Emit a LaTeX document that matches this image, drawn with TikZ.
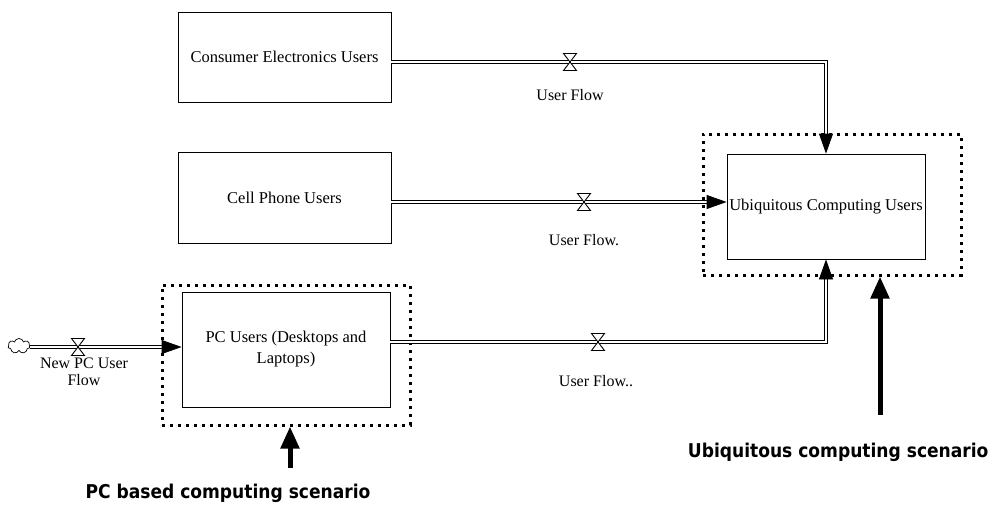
\documentclass[tikz,border=0pt]{standalone}
\usepackage{fontspec}
\setmainfont{Liberation Serif}
\newfontfamily\lblfont{DejaVu Sans Condensed}
\usetikzlibrary{arrows.meta,shapes.symbols}
\begin{document}
\begin{tikzpicture}[x=1pt,y=-1pt,
 stock/.style={draw, line width=0.8pt, inner sep=0pt, font=\fontsize{16.5}{21}\selectfont, align=center},
 dotbox/.style={draw, line width=3pt, dash pattern=on 3pt off 5pt, inner sep=0pt},
 flow/.style={draw, line width=0.8pt, double distance=2pt},
 flowarr/.style={flow, -{Triangle[length=20pt,width=14pt]}},
 lbl/.style={font=\fontsize{16}{17}\selectfont, align=center},
 scen/.style={font=\lblfont\bfseries\fontsize{19}{22}\selectfont},
 bigarrow/.style={line width=5pt, -{Triangle[length=22pt,width=18pt]}},
 valve/.pic={\filldraw[fill=white, line width=0.9pt] (-6.5,-8.5) -- (6.5,-8.5) -- (-6.5,8.5) -- (6.5,8.5) -- cycle;}
]
\useasboundingbox (0,0) rectangle (997,506);
\node[stock, minimum width=213pt, minimum height=90pt] (ce) at (284.5,57) {Consumer Electronics Users};
\node[stock, minimum width=213pt, minimum height=91pt] (cp) at (284.5,197.5) {Cell Phone Users};
\node[stock, minimum width=208pt, minimum height=115pt] (pc) at (286,349.5) {PC Users (Desktops and\\Laptops)};
\node[stock, minimum width=198pt, minimum height=105pt] (ub) at (826,206.5) {Ubiquitous Computing Users};
\node[dotbox, minimum width=258pt, minimum height=141pt] (ubd) at (832,204.5) {};
\node[dotbox, minimum width=248pt, minimum height=140pt] (pcd) at (286,355) {};
\coordinate (v1) at (570,62);
\coordinate (v2) at (584,202);
\coordinate (v3) at (598,342);
\coordinate (v0) at (78,347);
\node[cloud, draw, cloud puffs=7, minimum width=22pt, minimum height=15pt, inner sep=0pt, line width=0.7pt] (src) at (19,346) {};
\draw[flowarr] (ce.east |- v1) -| (ub.north);
\draw[flowarr] (cp.east |- v2) -- (ub.west |- v2);
\draw[flowarr] (pc.east |- v3) -| (ub.south);
\draw[flowarr] (src.east |- v0) -- (pc.west |- v0);
\pic at (v1) {valve};
\pic at (v2) {valve};
\pic at (v3) {valve};
\pic at (v0) {valve};
\node[lbl] (l1) at (570,95) {User Flow};
\node[lbl] (l2) at (584,240) {User Flow.};
\node[lbl] (l3) at (596,381) {User Flow..};
\node[lbl] (l0) at (84,372) {New PC User\\Flow};
\node[scen, anchor=east] (us) at (992,452) {Ubiquitous computing scenario};
\node[scen] (ps) at (228,493) {PC based computing scenario};
\coordinate (a1) at (880,415);
\draw[bigarrow] (a1) -- (a1 |- ubd.south);
\coordinate (a2) at (290,468);
\draw[bigarrow] (a2) -- (a2 |- pcd.south);
\end{tikzpicture}
\end{document}
